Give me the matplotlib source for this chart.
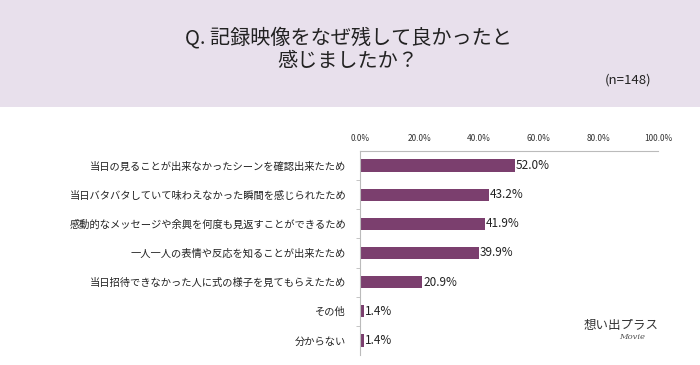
import matplotlib.pyplot as plt
from matplotlib.patches import Rectangle

plt.rcParams['font.family'] = ['Noto Sans CJK JP', 'DejaVu Sans']

categories = [
    '当日の見ることが出来なかったシーンを確認出来たため',
    '当日バタバタしていて味わえなかった瞬間を感じられたため',
    '感動的なメッセージや余興を何度も見返すことができるため',
    '一人一人の表情や反応を知ることが出来たため',
    '当日招待できなかった人に式の様子を見てもらえたため',
    'その他',
    '分からない',
]
values = [52.0, 43.2, 41.9, 39.9, 20.9, 1.4, 1.4]
ticks = [0, 20, 40, 60, 80, 100]

W, H = 700, 365
fig = plt.figure(figsize=(7, 3.65), dpi=100)

# header band
fig.patches.append(Rectangle((0, 1 - 107 / H), 1, 107 / H, transform=fig.transFigure,
                             facecolor='#e8e0ec', edgecolor='none', zorder=0))
fig.text(348 / W, 1 - 38 / H, 'Q. 記録映像をなぜ残して良かったと', ha='center', va='center',
         fontsize=14.5, color='#222222')
fig.text(348 / W, 1 - 61 / H, '感じましたか？', ha='center', va='center',
         fontsize=14.5, color='#222222')
fig.text(628 / W, 1 - 80 / H, '(n=148)', ha='center', va='center', fontsize=9.5, color='#222222')

ax = fig.add_axes([360 / W, 1 - 355 / H, 298 / W, 204 / H])
y = list(range(len(categories)))
ax.barh(y, values, height=0.42, color='#7b3f6e')
ax.set_xlim(0, 100)
ax.set_ylim(len(categories) - 0.5, -0.5)
ax.xaxis.tick_top()
ax.set_xticks(ticks)
ax.set_xticklabels([f'{t:.1f}%' for t in ticks], fontsize=6, color='#333333')
ax.tick_params(axis='x', length=0, pad=6)
ax.set_yticks(y)
ax.set_yticklabels(categories, fontsize=7.4, color='#222222')
ax.set_yticks([i + 0.5 for i in y[:-1]], minor=True)
ax.tick_params(axis='y', which='major', length=0, pad=10)
ax.tick_params(axis='y', which='minor', length=3, color='#bbbbbb')
for s in ['right', 'bottom']:
    ax.spines[s].set_visible(False)
for s in ['top', 'left']:
    ax.spines[s].set_color('#bbbbbb')
    ax.spines[s].set_linewidth(0.8)

for yi, v in zip(y, values):
    ax.text(v + 0.3, yi, f'{v:.1f}%', va='center', ha='left', fontsize=8.5, color='#222222')

# logo
fig.text(621 / W, 1 - 325 / H, '想い出プラス', ha='center', va='center', fontsize=9,
         color='#333333', family=['Noto Sans CJK JP'])
fig.text(632 / W, 1 - 337 / H, 'Movie', ha='center', va='center', fontsize=6,
         color='#555555', style='italic', family='DejaVu Serif')

fig.savefig('out.png', dpi=100, facecolor='white')
